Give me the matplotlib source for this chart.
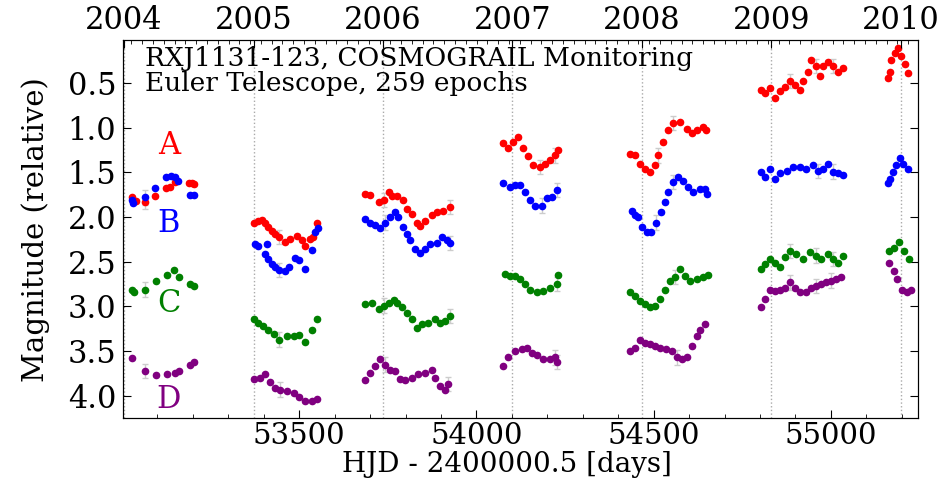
import numpy as np
import matplotlib.pyplot as plt
from matplotlib.ticker import MultipleLocator, FixedLocator

plt.rcParams['font.family'] = 'DejaVu Serif'

# light curves of the four lensed images (HJD - 2400000.5, relative magnitude)
mjd_a = [53028, 53040, 53066, 53094, 53125, 53135, 53150, 53188, 53196, 53204,
         53371, 53385, 53395, 53404, 53413, 53423, 53432, 53442, 53461, 53475, 53494, 53508, 53517, 53531, 53540, 53550,
         53686, 53700, 53724, 53738, 53752, 53761, 53775, 53794, 53804, 53818, 53832, 53841, 53855, 53874, 53888, 53907, 53926,
         54076, 54090, 54104, 54118, 54132, 54146, 54160, 54179, 54194, 54208, 54222, 54231,
         54433, 54447, 54461, 54475, 54490, 54504, 54513, 54527, 54541, 54555, 54574, 54593, 54607, 54621, 54640, 54649,
         54804, 54814, 54828, 54842, 54856, 54870, 54884, 54898, 54912, 54922, 54936, 54945, 54959, 54969, 54978, 54992, 55006, 55020, 55034,
         55161, 55166, 55170, 55180, 55189, 55199, 55208, 55218]
mag_a = [1.78, 1.82, 1.83, 1.76, 1.67, 1.66, 1.61, 1.62, 1.62, 1.63,
         2.06, 2.04, 2.03, 2.07, 2.11, 2.15, 2.19, 2.22, 2.28, 2.24, 2.21, 2.26, 2.32, 2.24, 2.22, 2.07,
         1.74, 1.75, 1.83, 1.81, 1.72, 1.76, 1.76, 1.81, 1.91, 1.96, 2.07, 2.10, 2.04, 1.98, 1.94, 1.93, 1.89,
         1.17, 1.23, 1.16, 1.10, 1.23, 1.32, 1.42, 1.44, 1.41, 1.36, 1.31, 1.25,
         1.29, 1.31, 1.40, 1.46, 1.49, 1.42, 1.31, 1.16, 1.03, 0.95, 0.94, 1.01, 1.06, 1.03, 0.99, 1.02,
         0.58, 0.61, 0.56, 0.67, 0.59, 0.54, 0.48, 0.52, 0.58, 0.48, 0.37, 0.24, 0.31, 0.42, 0.31, 0.26, 0.31, 0.37, 0.33,
         0.44, 0.37, 0.24, 0.16, 0.11, 0.20, 0.29, 0.39]

mjd_b = [53028, 53032, 53066, 53094, 53125, 53137, 53150, 53158, 53193, 53204,
         53376, 53385, 53409, 53404, 53413, 53423, 53432, 53442, 53461, 53470, 53489, 53498, 53517, 53536, 53545, 53553,
         53686, 53700, 53714, 53728, 53743, 53757, 53771, 53780, 53794, 53804, 53813, 53827, 53841, 53855, 53869, 53888, 53902, 53916, 53926,
         54076, 54095, 54109, 54123, 54137, 54151, 54165, 54184, 54198, 54212, 54226,
         54438, 54447, 54457, 54466, 54480, 54494, 54508, 54522, 54532, 54541, 54555, 54569, 54584, 54598, 54612, 54631, 54645, 54652,
         54804, 54814, 54828, 54842, 54856, 54875, 54893, 54912, 54931, 54950, 54964, 54978, 54992, 55006, 55020, 55034,
         55161, 55166, 55175, 55185, 55194, 55203, 55218]
mag_b = [1.81, 1.84, 1.78, 1.67, 1.55, 1.54, 1.55, 1.60, 1.75, 1.75,
         2.30, 2.32, 2.30, 2.41, 2.47, 2.52, 2.56, 2.59, 2.60, 2.56, 2.46, 2.48, 2.58, 2.37, 2.17, 2.12,
         2.02, 2.07, 2.09, 2.12, 2.06, 2.00, 1.94, 2.00, 2.11, 2.19, 2.26, 2.36, 2.40, 2.36, 2.30, 2.29, 2.22, 2.26, 2.29,
         1.62, 1.66, 1.64, 1.64, 1.72, 1.81, 1.87, 1.87, 1.79, 1.77, 1.70,
         1.93, 1.98, 2.00, 2.11, 2.17, 2.17, 2.06, 1.94, 1.83, 1.72, 1.61, 1.55, 1.59, 1.66, 1.72, 1.68, 1.69, 1.74,
         1.49, 1.55, 1.46, 1.57, 1.51, 1.48, 1.44, 1.44, 1.46, 1.42, 1.48, 1.46, 1.40, 1.49, 1.51, 1.53,
         1.62, 1.57, 1.49, 1.42, 1.34, 1.40, 1.46]

mjd_c = [53027, 53035, 53066, 53096, 53127, 53146, 53160, 53193, 53204,
         53371, 53385, 53399, 53413, 53428, 53442, 53466, 53484, 53498, 53517, 53536, 53550,
         53686, 53705, 53724, 53738, 53752, 53766, 53775, 53789, 53804, 53818, 53832, 53846, 53864, 53883, 53897, 53911, 53926,
         54081, 54095, 54109, 54123, 54137, 54151, 54170, 54189, 54208, 54226, 54231,
         54433, 54447, 54461, 54475, 54490, 54504, 54518, 54532, 54546, 54560, 54574, 54588, 54602, 54621, 54640, 54654,
         54804, 54814, 54828, 54842, 54856, 54870, 54884, 54903, 54922, 54940, 54959, 54973, 54992, 55006, 55020, 55034,
         55163, 55178, 55192, 55206, 55220]
mag_c = [2.81, 2.84, 2.81, 2.72, 2.65, 2.59, 2.67, 2.75, 2.77,
         3.14, 3.18, 3.22, 3.26, 3.31, 3.37, 3.33, 3.33, 3.32, 3.40, 3.26, 3.14,
         2.97, 2.96, 3.03, 2.99, 2.96, 2.93, 2.96, 3.01, 3.07, 3.14, 3.24, 3.20, 3.18, 3.14, 3.19, 3.16, 3.11,
         2.64, 2.66, 2.66, 2.69, 2.75, 2.81, 2.84, 2.83, 2.79, 2.75, 2.65,
         2.84, 2.88, 2.94, 2.97, 3.01, 2.99, 2.92, 2.81, 2.71, 2.67, 2.58, 2.66, 2.71, 2.69, 2.67, 2.65,
         2.58, 2.52, 2.47, 2.51, 2.56, 2.45, 2.38, 2.41, 2.47, 2.39, 2.43, 2.47, 2.41, 2.47, 2.51, 2.43,
         2.38, 2.34, 2.28, 2.38, 2.47]

mjd_d = [53027, 53066, 53096, 53127, 53150, 53160, 53193, 53204,
         53371, 53390, 53404, 53418, 53432, 53447, 53466, 53484, 53498, 53517, 53536, 53550,
         53686, 53700, 53714, 53728, 53743, 53757, 53771, 53785, 53799, 53818, 53836, 53855, 53874, 53883, 53897, 53911, 53921,
         54076, 54090, 54109, 54128, 54142, 54156, 54170, 54189, 54208, 54222, 54226,
         54433, 54447, 54461, 54475, 54490, 54504, 54518, 54536, 54551, 54565, 54579, 54593, 54607, 54621, 54631, 54645,
         54804, 54814, 54828, 54842, 54856, 54870, 54884, 54898, 54912, 54931, 54945, 54959, 54973, 54987, 55001, 55015, 55029,
         55163, 55177, 55187, 55201, 55215, 55225]
mag_d = [3.58, 3.72, 3.77, 3.76, 3.74, 3.72, 3.65, 3.62,
         3.81, 3.80, 3.76, 3.84, 3.91, 3.93, 3.95, 3.97, 4.01, 4.06, 4.06, 4.04,
         3.82, 3.75, 3.67, 3.59, 3.65, 3.71, 3.72, 3.81, 3.82, 3.80, 3.76, 3.74, 3.71, 3.80, 3.89, 3.93, 3.87,
         3.67, 3.57, 3.50, 3.48, 3.46, 3.52, 3.54, 3.59, 3.59, 3.57, 3.62,
         3.50, 3.46, 3.37, 3.41, 3.42, 3.44, 3.46, 3.48, 3.50, 3.57, 3.59, 3.56, 3.44, 3.33, 3.26, 3.20,
         3.01, 2.92, 2.81, 2.83, 2.81, 2.79, 2.73, 2.79, 2.84, 2.84, 2.79, 2.77, 2.75, 2.73, 2.71, 2.69, 2.67,
         2.51, 2.60, 2.69, 2.81, 2.84, 2.82]

# epochs taken in poor conditions, with large photometric errors
noisy_epochs = [53066, 53442, 53743, 53926, 54179, 54225, 54510, 54560, 54884, 54960, 55006]
err_small, err_large = 0.02, 0.08

curves = [('A', mjd_a, mag_a, 'red'),
          ('B', mjd_b, mag_b, 'blue'),
          ('C', mjd_c, mag_c, 'green'),
          ('D', mjd_d, mag_d, 'purple')]
label_y = [1.20, 2.07, 2.97, 4.04]

years = [2004, 2005, 2006, 2007, 2008, 2009, 2010]
year_mjd = [53005, 53371, 53736, 54101, 54466, 54832, 55197]

fig = plt.figure(figsize=(9.47, 4.79), dpi=100)
ax = fig.add_axes([0.130, 0.127, 0.839, 0.789])

for (name, t, m, col), ly in zip(curves, label_y):
    t = np.array(t)
    near = np.min(np.abs(t[:, None] - np.array(noisy_epochs)[None, :]), axis=1) < 6
    err = np.where(near, err_large, err_small)
    ax.errorbar(t, m, yerr=err, fmt='none', ecolor='#cccccc', elinewidth=1, capsize=2, zorder=1)
    ax.plot(t, m, 'o', color=col, markersize=5.5, markeredgewidth=0, zorder=2)
    ax.text(53132, ly, name, color=col, fontsize=22, ha='center', va='center')

for ym in year_mjd:
    ax.axvline(ym, color='#aaaaaa', ls=':', lw=1, zorder=0)

ax.set_xlim(53003, 55245)
ax.set_ylim(4.25, 0.02)
ax.xaxis.set_major_locator(MultipleLocator(500))
ax.xaxis.set_minor_locator(MultipleLocator(100))
ax.yaxis.set_major_locator(MultipleLocator(0.5))
ax.tick_params(direction='in', labelsize=22, top=False, right=True, length=6, pad=5)
ax.tick_params(axis='x', labelsize=21, pad=3)
ax.tick_params(which='minor', direction='in', top=False, length=3)
ax.set_xlabel('HJD - 2400000.5 [days]', fontsize=20, va='bottom')
ax.xaxis.set_label_coords(0.483, -0.158)
ax.set_ylabel('Magnitude (relative)', fontsize=21)
ax.yaxis.set_label_coords(-0.092, 0.5)

ax.text(0.028, 0.985, 'RXJ1131-123, COSMOGRAIL Monitoring\nEuler Telescope, 259 epochs',
        transform=ax.transAxes, ha='left', va='top', fontsize=19, linespacing=1.0)

top = ax.twiny()
top.set_xlim(ax.get_xlim())
top.xaxis.set_major_locator(FixedLocator(year_mjd))
top.set_xticklabels([str(y) for y in years])
top.xaxis.set_minor_locator(MultipleLocator(30.44))
top.tick_params(direction='in', labelsize=22, length=6, pad=3)
top.tick_params(which='minor', direction='in', length=3)

fig.savefig('out.png', dpi=100)
